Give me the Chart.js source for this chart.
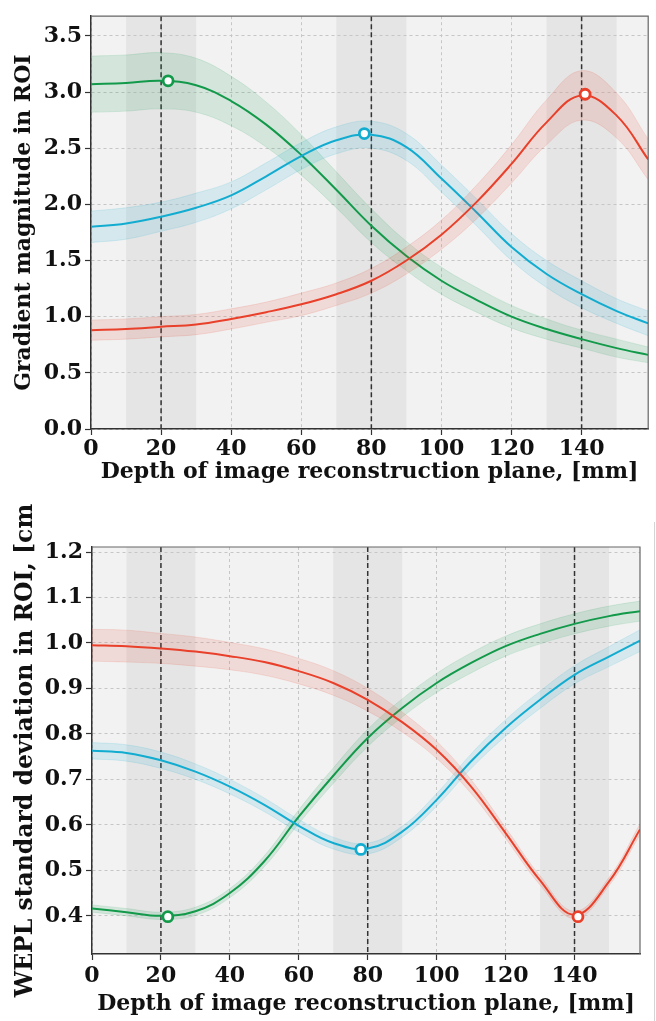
<!DOCTYPE html>
<html>
<head>
<meta charset="utf-8">
<script src="https://cdn.jsdelivr.net/npm/chart.js@4.4.1/dist/chart.umd.min.js"></script>
<style>
  body { margin: 0; background: #fff; }
  #gradChart { position: absolute; left: 0; top: 0; }
  #weplChart { position: absolute; left: 0; top: 500px; }
  #edge { position: absolute; left: 654px; top: 522px; height: 499px; border-left: 1.5px solid #d4d4d4; }
</style>
</head>
<body>
<canvas id="gradChart" width="656" height="490"></canvas>
<canvas id="weplChart" width="656" height="521"></canvas>
<div id="edge"></div>
<script>
// depth of reconstruction plane, mm
const depth = [0, 10, 20, 30, 40, 50, 60, 70, 80, 90, 100, 110, 120, 130, 140, 150, 159];

// gradient magnitude (top panel)
const gradGreen = [3.07, 3.08, 3.10, 3.06, 2.92, 2.71, 2.44, 2.13, 1.81, 1.54, 1.32, 1.15, 1.00, 0.89, 0.80, 0.72, 0.66];
const gradGreenSd = [0.25, 0.25, 0.25, 0.24, 0.22, 0.20, 0.18, 0.16, 0.15, 0.13, 0.12, 0.11, 0.10, 0.09, 0.08, 0.08, 0.07];
const gradCyan = [1.80, 1.83, 1.89, 1.97, 2.08, 2.25, 2.43, 2.57, 2.62, 2.51, 2.23, 1.93, 1.62, 1.38, 1.20, 1.05, 0.94];
const gradCyanSd = [0.14, 0.14, 0.13, 0.13, 0.12, 0.12, 0.12, 0.12, 0.12, 0.12, 0.12, 0.12, 0.12, 0.12, 0.12, 0.11, 0.11];
const gradRed = [0.88, 0.89, 0.91, 0.93, 0.98, 1.04, 1.11, 1.20, 1.32, 1.50, 1.73, 2.02, 2.36, 2.73, 2.97, 2.79, 2.40];
const gradRedSd = [0.09, 0.09, 0.09, 0.09, 0.09, 0.09, 0.10, 0.10, 0.11, 0.12, 0.13, 0.15, 0.17, 0.20, 0.22, 0.20, 0.18];

// WEPL standard deviation (bottom panel)
const weplGreen = [0.416, 0.408, 0.400, 0.410, 0.450, 0.520, 0.618, 0.708, 0.791, 0.857, 0.912, 0.956, 0.993, 1.020, 1.042, 1.059, 1.070];
const weplGreenSd = [0.008, 0.008, 0.008, 0.009, 0.010, 0.012, 0.015, 0.017, 0.019, 0.020, 0.021, 0.022, 0.022, 0.022, 0.022, 0.022, 0.022];
const weplCyan = [0.763, 0.758, 0.742, 0.717, 0.684, 0.644, 0.598, 0.560, 0.548, 0.585, 0.655, 0.740, 0.813, 0.875, 0.930, 0.970, 1.005];
const weplCyanSd = [0.018, 0.018, 0.018, 0.017, 0.016, 0.015, 0.014, 0.013, 0.012, 0.012, 0.014, 0.016, 0.018, 0.019, 0.020, 0.022, 0.024];
const weplRed = [0.995, 0.993, 0.988, 0.981, 0.971, 0.958, 0.938, 0.912, 0.875, 0.826, 0.765, 0.684, 0.582, 0.478, 0.402, 0.475, 0.590];
const weplRedSd = [0.035, 0.035, 0.033, 0.032, 0.030, 0.029, 0.028, 0.027, 0.025, 0.022, 0.019, 0.015, 0.012, 0.010, 0.008, 0.009, 0.012];

// optimum markers
const markDepth = [22, 78, 141];
const markGrad = [3.10, 2.63, 2.98];
const markWepl = [0.398, 0.546, 0.398];

// shaded depth windows and their centres
const shadeRanges = [[10, 30], [70, 90], [130, 150]];
const centreLines = [20, 80, 140];

const GREEN = '#12994a', CYAN = '#12acd0', RED = '#e8402a';
const GREEN_F = 'rgba(18,153,74,0.13)', CYAN_F = 'rgba(18,172,208,0.13)', RED_F = 'rgba(232,64,42,0.13)';

Chart.defaults.font.family = "'DejaVu Serif', serif";
Chart.defaults.font.weight = 'bold';
Chart.defaults.font.size = 22;
Chart.defaults.color = '#111';

function series(mean, sd, color, fillColor) {
    return [
        { data: depth.map((x, i) => ({ x, y: mean[i] })), borderColor: color, borderWidth: 2, pointRadius: 0, fill: false },
        { data: depth.map((x, i) => ({ x, y: mean[i] + sd[i] })), borderColor: fillColor, backgroundColor: fillColor, borderWidth: 1, pointRadius: 0, fill: '+1' },
        { data: depth.map((x, i) => ({ x, y: mean[i] - sd[i] })), borderColor: fillColor, borderWidth: 1, pointRadius: 0, fill: false }
    ];
}

function markers(vals) {
    return {
        data: markDepth.map((x, i) => ({ x, y: vals[i] })),
        showLine: false,
        pointRadius: 5,
        pointBackgroundColor: '#fff',
        pointBorderColor: [GREEN, CYAN, RED],
        pointBorderWidth: 2.8
    };
}

const decor = {
    id: 'decor',
    beforeDraw(chart) {
        const { ctx, chartArea: a, scales: { x } } = chart;
        ctx.save();
        ctx.fillStyle = '#f2f2f2';
        ctx.fillRect(a.left, a.top, a.width, a.height);
        ctx.fillStyle = '#e5e5e5';
        shadeRanges.forEach(([s, e]) => {
            const x0 = x.getPixelForValue(s), x1 = x.getPixelForValue(e);
            ctx.fillRect(x0, a.top, x1 - x0, a.height);
        });
        ctx.restore();
    },
    beforeDatasetsDraw(chart) {
        const { ctx, chartArea: a, scales: { x } } = chart;
        ctx.save();
        ctx.strokeStyle = '#333';
        ctx.lineWidth = 1.5;
        ctx.setLineDash([5, 3]);
        centreLines.forEach(v => {
            const px = x.getPixelForValue(v);
            ctx.beginPath();
            ctx.moveTo(px, a.top);
            ctx.lineTo(px, a.bottom);
            ctx.stroke();
        });
        ctx.restore();
    },
    afterDraw(chart) {
        const { ctx, chartArea: a } = chart;
        ctx.save();
        ctx.strokeStyle = '#666';
        ctx.lineWidth = 1.2;
        ctx.beginPath();
        ctx.moveTo(a.left, a.top);
        ctx.lineTo(a.right, a.top);
        ctx.lineTo(a.right, a.bottom);
        ctx.stroke();
        ctx.restore();
    }
};

function makeChart(id, datasets, y, yTitle, yTitleSize, axisW, axisH, pad, titlePad, xTitlePad, tickPad) {
    return new Chart(document.getElementById(id), {
        type: 'line',
        data: { datasets },
        plugins: [decor],
        options: {
            responsive: false,
            animation: false,
            layout: { padding: pad },
            elements: { line: { tension: 0.4 } },
            plugins: { legend: { display: false }, tooltip: { enabled: false } },
            scales: {
                x: {
                    type: 'linear', min: 0, max: 159,
                    afterFit: s => { s.height = axisH; },
                    ticks: { stepSize: 20, includeBounds: false, padding: tickPad, maxRotation: 0 },
                    grid: { color: '#c6c6c6', tickColor: '#333', tickLength: 6, tickWidth: 1.2 },
                    border: { display: true, color: '#333', width: 1.5, dash: [3, 3] },
                    title: { display: true, text: 'Depth of image reconstruction plane, [mm]', padding: { top: 0, bottom: xTitlePad } }
                },
                y: {
                    min: y.min, max: y.max,
                    afterFit: s => { s.width = axisW; },
                    ticks: { stepSize: y.step, includeBounds: false, padding: 3, callback: v => v.toFixed(1) },
                    grid: { color: '#c6c6c6', tickColor: '#333', tickLength: 6, tickWidth: 1.2 },
                    border: { display: true, color: '#333', width: 1.5, dash: [3, 3] },
                    title: { display: true, text: yTitle, font: { size: yTitleSize }, padding: { top: titlePad, bottom: 0 } }
                }
            }
        }
    });
}

makeChart('gradChart',
    [markers(markGrad),
     ...series(gradRed, gradRedSd, RED, RED_F),
     ...series(gradCyan, gradCyanSd, CYAN, CYAN_F),
     ...series(gradGreen, gradGreenSd, GREEN, GREEN_F)],
    { min: 0, max: 3.675, step: 0.5 },
    'Gradient magnitude in ROI', 22,
    91, 61, { top: 10, right: 4, left: 0, bottom: 0 }, 11, 5, 1);

makeChart('weplChart',
    [markers(markWepl),
     ...series(weplRed, weplRedSd, RED, RED_F),
     ...series(weplCyan, weplCyanSd, CYAN, CYAN_F),
     ...series(weplGreen, weplGreenSd, GREEN, GREEN_F)],
    { min: 0.316, max: 1.211, step: 0.1 },
    'WEPL standard deviation in ROI, [cm', 23.5,
    92, 67, { top: 47, right: 16, left: 0, bottom: 0 }, 12, 4, 3);
</script>
</body>
</html>
